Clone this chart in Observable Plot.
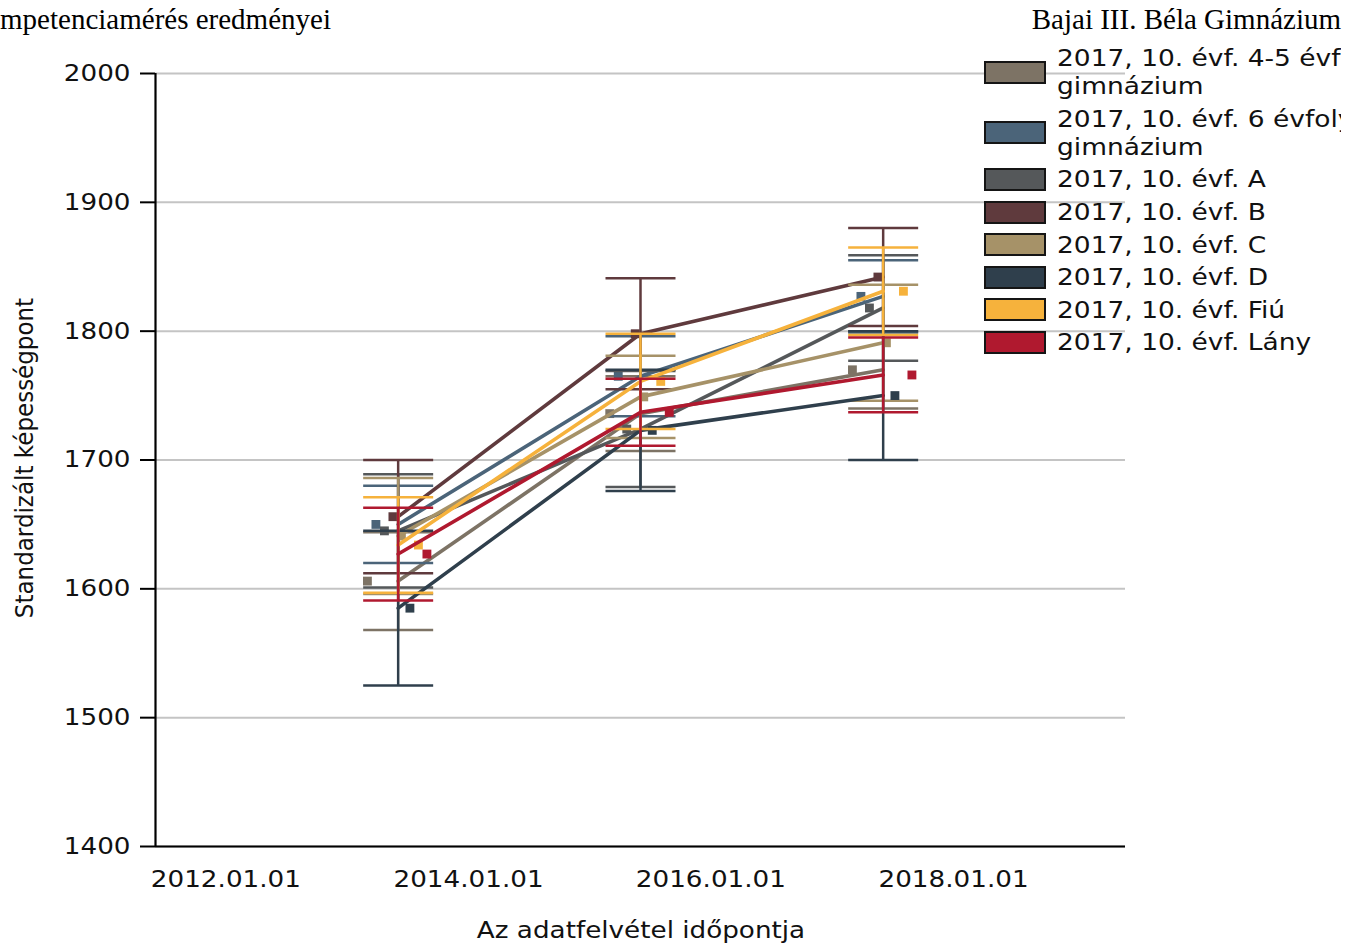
<!DOCTYPE html>
<html>
<head>
<meta charset="utf-8">
<script src="https://cdn.jsdelivr.net/npm/d3@7"></script>
<script src="https://cdn.jsdelivr.net/npm/@observablehq/plot@0.6"></script>
<style>
  html, body { margin: 0; padding: 0; background: #fff; }
  body { width: 1360px; height: 946px; overflow: hidden; position: relative; }
  #chart { position: absolute; left: 0; top: 0; }
  .title { position: absolute; top: 5px; font-family: "Liberation Serif", serif; font-size: 29px; line-height: 29px; color: #000; white-space: nowrap; }
  .sans { font-family: "DejaVu Sans", sans-serif; font-size: 23px; color: #111; white-space: nowrap; }
  .stretch { display: inline-block; transform: scaleX(1.15); transform-origin: left center; }
  #legend { position: absolute; left: 984px; top: 42px; width: 357px; overflow: hidden; }
  .item { display: flex; align-items: center; padding: 2.3px 0; }
  .box { width: 58px; height: 19px; border: 2px solid #151515; flex: none; }
  .label { margin-left: 11px; line-height: 28px; }
  #xtitle { position: absolute; left: 141px; width: 1000px; top: 916px; text-align: center; line-height: 28px; }
  #xtitle span { display: inline-block; transform: scaleX(1.14); transform-origin: center; }
  #ytitle { position: absolute; left: -176px; width: 400px; top: 444px; height: 28px; line-height: 28px; text-align: center; transform: rotate(-90deg) scale(1, 1.1); }
</style>
</head>
<body>
<div id="chart"></div>
<div class="title" style="left:-35.4px">Kompetenciamérés eredményei</div>
<div class="title" style="right:19px">Bajai III. Béla Gimnázium</div>
<div id="legend" class="sans"></div>
<div id="xtitle" class="sans"><span>Az adatfelvétel időpontja</span></div>
<div id="ytitle" class="sans">Standardizált képességpont</div>
<script>
// ---- data ----
const seriesNames = [
  ["2017, 10. évf. 4-5 évfolyamos", "gimnázium"],
  ["2017, 10. évf. 6 évfolyamos", "gimnázium"],
  ["2017, 10. évf. A"],
  ["2017, 10. évf. B"],
  ["2017, 10. évf. C"],
  ["2017, 10. évf. D"],
  ["2017, 10. évf. Fiú"],
  ["2017, 10. évf. Lány"]
];
const seriesColors = ["#7d7365", "#4b6479", "#55585a", "#5f3a3d", "#a69268", "#2f3f4c", "#f6b23c", "#b0192f"];
const dates = ["2013-06-03", "2015-06-03", "2017-06-03"];
const mean2013 = [1606, 1650, 1645, 1656, 1641, 1585, 1634, 1627];
const err2013  = [38, 30, 44, 44, 45, 60, 37, 36];
const mean2015 = [1736, 1765, 1724, 1798, 1749, 1723, 1761, 1737];
const err2015  = [29, 31, 45, 43, 32, 47, 37, 26];
const mean2017 = [1770, 1827, 1818, 1842, 1791, 1750, 1831, 1766];
const err2017  = [30, 28, 41, 38, 45, 50, 34, 29];
const xDomain = ["2011-06-03", "2019-06-03"];
const xTicks = ["2012-01-01", "2014-01-01", "2016-01-01", "2018-01-01"];
const yTicks = [1400, 1500, 1600, 1700, 1800, 1900, 2000];

// ---- build table ----
const means = [mean2013, mean2015, mean2017];
const errs = [err2013, err2015, err2017];
const parse = d3.utcParse("%Y-%m-%d");
const rowsBySeries = seriesNames.map((name, i) =>
  dates.map((d, t) => ({
    series: name.join(" "),
    date: parse(d),
    mean: means[t][i],
    lo: means[t][i] - errs[t][i],
    hi: means[t][i] + errs[t][i]
  }))
);

const capSymbol = { draw(ctx) { ctx.moveTo(-35, 0); ctx.lineTo(35, 0); } };

const seriesMarks = [];
rowsBySeries.forEach((rows, i) => {
  const c = seriesColors[i];
  const dx = (i - 3.5) * 8.5 - 1;
  seriesMarks.push(
    Plot.ruleX(rows, { x: "date", y1: "lo", y2: "hi", stroke: c, strokeWidth: 2.5 }),
    Plot.dot(rows, { x: "date", y: "hi", symbol: capSymbol, stroke: c, strokeWidth: 2.5, fill: "none" }),
    Plot.dot(rows, { x: "date", y: "lo", symbol: capSymbol, stroke: c, strokeWidth: 2.5, fill: "none" }),
    Plot.line(rows, { x: "date", y: "mean", stroke: c, strokeWidth: 3.6 }),
    Plot.dot(rows, { x: "date", y: "mean", symbol: "square", r: 5, fill: c, stroke: "none", dx })
  );
});

const chart = Plot.plot({
  width: 1360,
  height: 946,
  marginLeft: 155,
  marginRight: 235,
  marginTop: 73,
  marginBottom: 100,
  style: { fontFamily: "DejaVu Sans, sans-serif", fontSize: "23px", color: "#111", background: "transparent" },
  x: { type: "utc", domain: xDomain.map(parse) },
  y: { domain: [yTicks[0], yTicks[yTicks.length - 1]] },
  marks: [
    Plot.gridY(yTicks, { stroke: "#c4c4c4", strokeOpacity: 1, strokeWidth: 2 }),
    Plot.axisY({ ticks: yTicks, tickSize: 15, tickPadding: 10, tickFormat: d => String(d), label: null, stroke: "#000", strokeWidth: 2 }),
    Plot.axisX({ ticks: xTicks.map(parse), tickSize: 0, tickPadding: 24, tickFormat: d3.utcFormat("%Y.%m.%d"), label: null }),
    ...seriesMarks,
    Plot.ruleX([parse(xDomain[0])], { y1: yTicks[0], y2: yTicks[yTicks.length - 1], stroke: "#000", strokeWidth: 2.2 }),
    Plot.ruleY([yTicks[0]], { stroke: "#000", strokeWidth: 2.2 })
  ]
});
document.getElementById("chart").appendChild(chart);

// horizontal stretch of tick labels to mimic the source rendering
d3.select(chart)
  .selectAll('g[aria-label="y-axis tick label"] text, g[aria-label="x-axis tick label"] text')
  .each(function () {
    const t = this.getAttribute("transform") || "";
    this.setAttribute("transform", t + " scale(1.14,1)");
  });

// legend
const legend = document.getElementById("legend");
seriesNames.forEach((lines, i) => {
  const item = document.createElement("div");
  item.className = "item";
  const box = document.createElement("div");
  box.className = "box";
  box.style.background = seriesColors[i];
  const label = document.createElement("div");
  label.className = "label";
  lines.forEach(l => {
    const s = document.createElement("div");
    const inner = document.createElement("span");
    inner.className = "stretch";
    inner.textContent = l;
    s.appendChild(inner);
    label.appendChild(s);
  });
  item.appendChild(box);
  item.appendChild(label);
  legend.appendChild(item);
});
</script>
</body>
</html>
